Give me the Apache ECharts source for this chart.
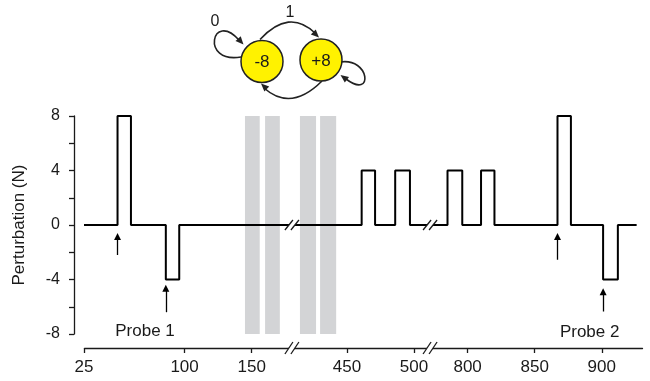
<!DOCTYPE html>
<html>
<head>
<meta charset="utf-8">
<script src="https://cdn.jsdelivr.net/npm/echarts@6.0.0/dist/echarts.min.js"></script>
<style>
  html, body { margin: 0; padding: 0; background: #fff; }
  #main { width: 650px; height: 381px; }
</style>
</head>
<body>
<div id="main"></div>
<script>
// trial ranges where a perturbation was on (start, end, level in N)
var pulseStart = [50, 86, 461, 486, 785, 810, 867, 901];
var pulseEnd   = [60, 96, 471, 497, 796, 820, 877, 912];
var pulseLevel = [8, -4, 4, 4, 4, 4, 8, -4];
var firstTrial = 25, lastTrial = 926;

// grey blocks
var blockStart = [145, 160, 415, 430];
var blockEnd   = [156, 171, 427, 442];

// broken x axis
var axisBreaks = [[180, 409], [512, 772]];
var xTicks = [25, 100, 150, 450, 500, 800, 850, 900];

// probe arrows (which pulse, arrow tail y, arrow head y)
var arrowPulse = [0, 1, 6, 7];
var arrowFrom  = [-2.2, -6.4, -2.55, -6.35];
var arrowTo    = [-0.85, -4.65, -0.85, -4.9];
var probeNames = ['Probe 1', 'Probe 2'];
var probeX     = [70.5, 891];
var probeY     = [-7.8, -7.85];

var FONT = 'Liberation Sans, Arial, sans-serif';
var INK = '#1a1a1a';

var pts = [[firstTrial, 0]];
for (var i = 0; i < pulseStart.length; i++) {
  pts.push([pulseStart[i], 0], [pulseStart[i], pulseLevel[i]], [pulseEnd[i], pulseLevel[i]], [pulseEnd[i], 0]);
}
pts.push([lastTrial, 0]);

var arrows = arrowPulse.map(function (p, k) {
  return [{coord: [pulseStart[p], arrowFrom[k]]}, {coord: [pulseStart[p], arrowTo[k]]}];
});
var blocks = blockStart.map(function (s, k) {
  return [{xAxis: s, yAxis: -8}, {xAxis: blockEnd[k], yAxis: 8}];
});
var probes = probeNames.map(function (n, k) {
  return {name: n, coord: [probeX[k], probeY[k]]};
});

var chart = echarts.init(document.getElementById('main'));
chart.setOption({
  animation: false,
  grid: {left: 84, right: 8, top: 116, bottom: 47},
  xAxis: {
    type: 'value', min: 25, max: 930,
    breaks: axisBreaks.map(function (b) { return {start: b[0], end: b[1], gap: 0}; }),
    breakArea: {show: false},
    offset: 14,
    axisLine: {onZero: false, lineStyle: {color: INK, width: 1.3}},
    axisTick: {show: true, length: 5, customValues: xTicks, lineStyle: {color: INK, width: 1.3}},
    axisLabel: {customValues: xTicks, margin: 11, fontSize: 17, color: INK, fontFamily: FONT},
    splitLine: {show: false}
  },
  yAxis: {
    type: 'value', min: -8, max: 8, interval: 4, offset: 10,
    name: 'Perturbation (N)', nameLocation: 'middle', nameGap: 46,
    nameTextStyle: {fontSize: 17, color: INK, fontFamily: FONT},
    axisLine: {show: true, lineStyle: {color: INK, width: 1.3}},
    axisTick: {show: true, length: 5, lineStyle: {color: INK, width: 1.3}},
    minorTick: {show: true, splitNumber: 2, length: 5, lineStyle: {color: INK, width: 1.3}},
    axisLabel: {margin: 14, fontSize: 16, color: INK, fontFamily: FONT},
    splitLine: {show: false}
  },
  series: [
    {
      type: 'line', data: pts, symbol: 'none', z: 2,
      lineStyle: {color: '#000', width: 2},
      markLine: {
        silent: true, symbol: ['none', 'triangle'], symbolSize: 7,
        label: {show: false},
        lineStyle: {color: '#000', width: 1.3, type: 'solid'},
        data: arrows
      },
      markPoint: {
        silent: true, symbol: 'circle', symbolSize: 1,
        itemStyle: {color: 'rgba(0,0,0,0)'},
        label: {show: true, position: 'inside', formatter: '{b}', color: INK, fontSize: 17, fontFamily: FONT},
        data: probes
      }
    },
    {
      type: 'line', data: [], z: 5,
      markArea: {silent: true, itemStyle: {color: '#d3d4d6'}, data: blocks}
    }
  ]
});

// state diagram + break marks
function head(tx, ty, fx, fy) {
  var dx = tx - fx, dy = ty - fy, d = Math.sqrt(dx * dx + dy * dy);
  var ux = dx / d, uy = dy / d, L = 8, W = 3.5;
  var bx = tx - ux * L, by = ty - uy * L;
  return {type: 'polygon', z: 110, shape: {points: [[tx, ty], [bx - uy * W, by + ux * W], [bx + uy * W, by - ux * W]]}, style: {fill: '#222'}};
}
var stroke = {stroke: '#222', lineWidth: 1.6, fill: null};
var g = [
  {type: 'bezierCurve', z: 100, shape: {x1: 260, y1: 39.5, cpx1: 289, cpy1: 8, x2: 315, y2: 33}, style: stroke},
  {type: 'bezierCurve', z: 100, shape: {x1: 322, y1: 81, cpx1: 291, cpy1: 112, x2: 264, y2: 88}, style: stroke},
  {type: 'bezierCurve', z: 100, shape: {x1: 241, y1: 57, cpx1: 200, cpy1: 64, cpx2: 212, cpy2: 10, x2: 239, y2: 40}, style: stroke},
  {type: 'bezierCurve', z: 100, shape: {x1: 340, y1: 62, cpx1: 370, cpy1: 57, cpx2: 374, cpy2: 100, x2: 346, y2: 79}, style: stroke},
  {type: 'circle', z: 105, shape: {cx: 262, cy: 61.5, r: 21}, style: {fill: '#fff200', stroke: '#222', lineWidth: 1.5}},
  {type: 'circle', z: 105, shape: {cx: 321, cy: 60, r: 21}, style: {fill: '#fff200', stroke: '#222', lineWidth: 1.5}},
  head(319, 37.5, 289, 8),
  head(261, 83.5, 291, 112),
  head(243.5, 44.5, 212, 10),
  head(340.5, 75, 374, 100),
  {type: 'text', z: 110, style: {text: '-8', x: 262, y: 62, align: 'center', verticalAlign: 'middle', font: '17px ' + FONT, fill: INK}},
  {type: 'text', z: 110, style: {text: '+8', x: 321, y: 61, align: 'center', verticalAlign: 'middle', font: '17px ' + FONT, fill: INK}},
  {type: 'text', z: 110, style: {text: '0', x: 215, y: 22, align: 'center', verticalAlign: 'middle', font: '16px ' + FONT, fill: INK}},
  {type: 'text', z: 110, style: {text: '1', x: 290, y: 13, align: 'center', verticalAlign: 'middle', font: '16px ' + FONT, fill: INK}}
];

var yZero = chart.convertToPixel({yAxisIndex: 0}, 0);
var yAxisLine = chart.convertToPixel({yAxisIndex: 0}, -8) + 14;
axisBreaks.forEach(function (b) {
  var bx = chart.convertToPixel({xAxisIndex: 0}, b[0]);
  [[yZero, 5], [yAxisLine, 6]].forEach(function (r) {
    var by = r[0], h = r[1];
    g.push({type: 'polygon', z: 120, shape: {points: [[bx - 7, by + h], [bx + 1, by - h], [bx + 7, by - h], [bx - 1, by + h]]}, style: {fill: '#fff'}});
    g.push({type: 'line', z: 121, shape: {x1: bx - 7, y1: by + h, x2: bx + 1, y2: by - h}, style: {stroke: INK, lineWidth: 1.3}});
    g.push({type: 'line', z: 121, shape: {x1: bx - 1, y1: by + h, x2: bx + 7, y2: by - h}, style: {stroke: INK, lineWidth: 1.3}});
  });
});
chart.setOption({graphic: g});
</script>
</body>
</html>
